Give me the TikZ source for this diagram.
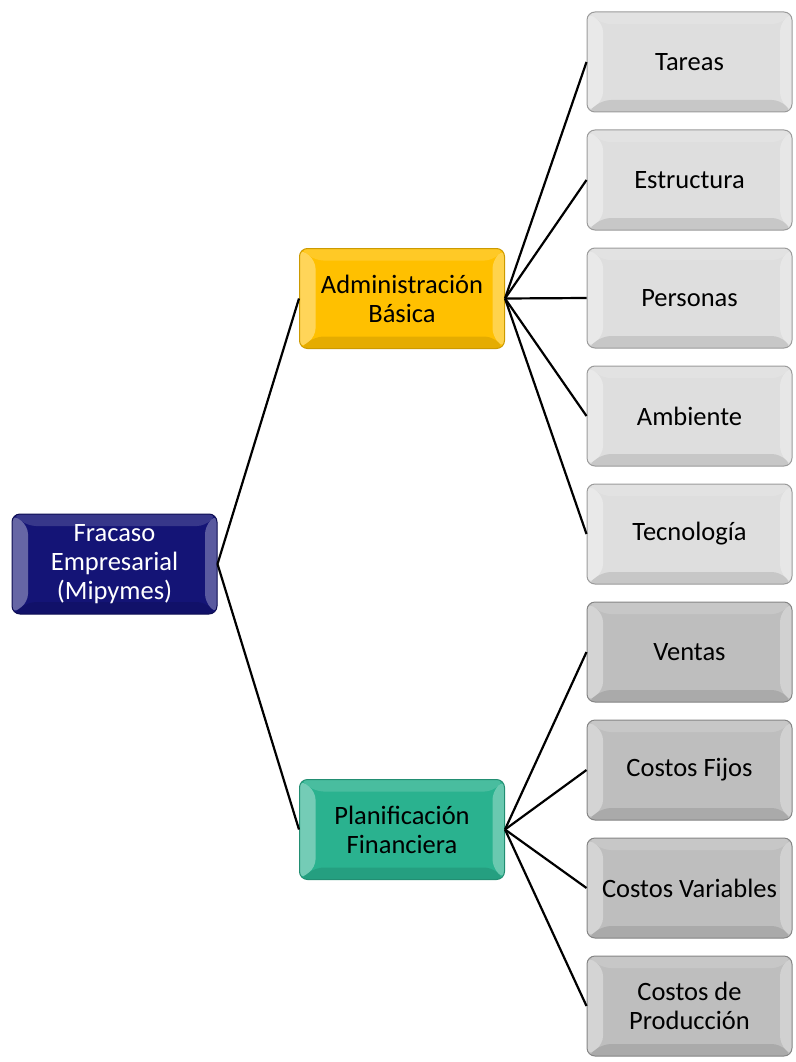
\documentclass[tikz,border=0pt]{standalone}
\usepackage{fontspec}
\setmainfont{Carlito}
\usetikzlibrary{calc}
\usetikzlibrary{positioning}
\definecolor{rootblue}{RGB}{20,20,118}
\definecolor{admingold}{RGB}{255,192,0}
\definecolor{finteal}{RGB}{42,178,143}
\definecolor{lightgray}{RGB}{222,222,222}
\definecolor{darkgray}{RGB}{190,190,190}
\newcommand*\bevel{%
    % lighter left, top and right faces, darker bottom face
    \fill[white,opacity=.35] (path picture bounding box.north west)
        -- (path picture bounding box.south west) -- ++(16pt,12pt)
        -- ($(path picture bounding box.north west)+(16pt,-12pt)$) -- cycle;% left
    \fill[white,opacity=.15] (path picture bounding box.north west)
        -- (path picture bounding box.north east) -- ++(-12pt,-12pt)
        -- ($(path picture bounding box.north west)+(16pt,-12pt)$) -- cycle;% top
    \fill[white,opacity=.3] (path picture bounding box.north east)
        -- (path picture bounding box.south east) -- ++(-12pt,12pt)
        -- ($(path picture bounding box.north east)+(-12pt,-12pt)$) -- cycle;% right
    \fill[black,opacity=.1] (path picture bounding box.south west)
        -- (path picture bounding box.south east) -- ++(-12pt,12pt)
        -- ($(path picture bounding box.south west)+(16pt,12pt)$) -- cycle;% bottom
}
\begin{document}
\begin{tikzpicture}
    [%
        x=1pt,y=-1pt,%
        box/.style={%
            rounded corners=8pt,%
            minimum width=205pt,%
            minimum height=100pt,%
            inner sep=0pt,%
            align=center,%
            font=\fontsize{26.5}{29}\selectfont,%
            line width=1pt,%
            path picture={\bevel}%
        },%
        root box/.style={box,fill=rootblue,draw=rootblue!70!black,text=white},%
        admin box/.style={box,fill=admingold,draw=admingold!80!black},%
        fin box/.style={box,fill=finteal,draw=finteal!80!black},%
        light box/.style={box,fill=lightgray,draw=lightgray!70!black},%
        dark box/.style={box,fill=darkgray,draw=darkgray!70!black},%
        branch/.style={draw,line width=2.2pt}%
    ]%
    \useasboundingbox (0,0) rectangle (795,1062);
%
    \node[root box] (fracaso) at (114.5,564) {Fracaso\\Empresarial\\(Mipymes)};
    \node[admin box] (admin) at (402,298.5) {Administración\\Básica};
    \node[fin box] (finanzas) at (402,829.5) {Planificación\\Financiera};
%
    \foreach \n/\t [count=\k] in {%
        tareas/Tareas,%
        estructura/Estructura,%
        personas/Personas,%
        ambiente/Ambiente,%
        tecnologia/Tecnología%
    }%
        \node[light box] (\n) at (689.5,{62+118*(\k-1)}) {\t};
    \foreach \n/\t [count=\k] in {%
        ventas/Ventas,%
        fijos/Costos Fijos,%
        variables/Costos Variables,%
        produccion/Costos de\\Producción%
    }%
        \node[dark box] (\n) at (689.5,{652+118*(\k-1)}) {\t};
%
    \draw[branch] (fracaso.east) -- (admin.west);
    \draw[branch] (fracaso.east) -- (finanzas.west);
    \foreach \n in {tareas,estructura,personas,ambiente,tecnologia}
        \draw[branch] (admin.east) -- (\n.west);
    \foreach \n in {ventas,fijos,variables,produccion}
        \draw[branch] (finanzas.east) -- (\n.west);
\end{tikzpicture}
\end{document}
